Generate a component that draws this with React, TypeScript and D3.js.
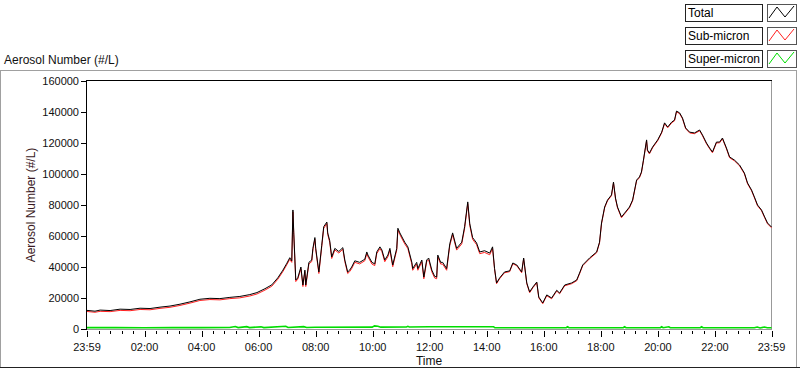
import React from "react";
import * as d3 from "d3";

// Time offsets in hours from the 23:59 start
const totalHours = [0,0.28,0.46,0.81,1.16,1.51,1.86,2.21,2.56,2.91,3.26,3.61,3.96,4.31,4.66,5.01,5.36,5.71,5.96,6.24,6.48,6.69,6.87,7.01,7.11,7.18,7.22,7.25,7.32,7.39,7.5,7.57,7.64,7.67,7.78,7.88,7.92,7.99,8.02,8.13,8.23,8.3,8.41,8.44,8.51,8.58,8.69,8.83,8.97,9.04,9.14,9.21,9.28,9.39,9.56,9.74,9.81,9.85,9.99,10.09,10.16,10.27,10.34,10.44,10.55,10.62,10.72,10.86,10.9,10.97,11.14,11.25,11.39,11.42,11.56,11.6,11.74,11.81,11.91,11.98,12.09,12.19,12.26,12.3,12.4,12.47,12.61,12.72,12.82,12.96,13.14,13.24,13.35,13.42,13.52,13.66,13.77,13.94,14.12,14.22,14.29,14.36,14.47,14.64,14.82,14.93,15.07,15.24,15.31,15.42,15.52,15.63,15.77,15.84,15.98,16.12,16.29,16.47,16.57,16.75,16.99,17.17,17.27,17.38,17.62,17.87,17.97,18.04,18.15,18.25,18.39,18.46,18.53,18.6,18.74,18.85,19.02,19.13,19.27,19.37,19.44,19.51,19.62,19.65,19.72,19.83,20.01,20.15,20.25,20.36,20.5,20.6,20.67,20.78,20.88,20.99,21.13,21.3,21.48,21.58,21.72,21.83,21.93,22.07,22.18,22.28,22.42,22.53,22.7,22.88,23.05,23.16,23.3,23.4,23.51,23.65,23.76,23.86,24];

const totalValues = [12000,11500,12200,11900,12800,12600,13400,13200,14100,14800,16000,17500,19200,19800,19600,20400,21000,22200,23500,26000,28500,33000,38000,42500,46000,44000,76800,62000,31600,33000,40000,28400,38000,28400,43000,44500,52000,59000,52000,36800,54000,66000,69000,62000,57000,46500,52000,50000,52500,44500,36800,38000,40000,44000,43000,45000,49700,47700,43000,42000,49700,53000,51000,44500,47700,52000,41300,52000,65000,62000,56000,53000,43000,39000,43000,39000,44500,33500,44500,45800,38000,34000,33500,47700,43000,43000,39000,55000,62000,52000,56000,66000,82000,68000,59000,55500,49700,50500,49000,53000,39000,29700,33000,36800,37500,42600,41300,36800,45800,29700,23900,27000,30300,20600,16800,22000,20000,25000,23200,28400,29700,31600,36100,41300,45800,49700,56000,68400,78700,83200,86500,94800,84500,78700,72300,74800,78700,83200,96100,98100,101300,109000,122000,115500,113500,117400,122000,127000,133000,130300,133500,134800,140600,139400,136100,129700,127000,126500,128400,125200,120000,116800,114200,120600,120600,123200,116800,111000,109000,105800,100600,94200,89700,85200,80000,76800,72300,68400,65800];

const subValues = [11300,10800,11400,11200,12000,11800,12600,12400,13300,14000,15200,16700,18400,19000,18800,19600,20100,21300,22600,25100,27600,32100,37100,41600,45000,43000,75600,60900,30600,32100,39000,27400,37000,27400,42000,43500,51000,58000,51000,35800,53000,65000,68000,61000,56000,45500,51000,49000,51500,43500,35800,37000,39000,43000,42000,44000,48600,46600,41900,40900,48600,51900,49900,43400,46600,50900,40200,50900,63900,60900,54900,51900,41900,37900,41900,37900,43400,32400,43400,44700,36900,32900,32400,46600,41900,41900,37900,53900,60900,50900,54900,64900,80900,66900,57900,54400,48600,49400,47900,51900,38500,29200,32500,36300,37000,42100,40800,36300,45300,29200,23400,26500,29800,20100,16300,21500,19500,24500,22700,27900,29200,31100,35600,40800,45300,49200,55500,67900,78200,82700,86000,94300,84000,78200,71800,74300,78200,82700,95600,97600,100800,108500,121500,115000,113000,116900,121500,126500,132500,129800,133000,134300,140100,138900,135600,129200,126500,126000,127900,124700,119500,116300,113700,120100,120100,122700,116300,110500,108500,105300,100100,93700,89200,84700,79500,76300,71800,67900,65300];

const superHours = [0,1,2,3,4,5,5.2,5.3,5.6,5.7,6.1,6.2,6.97,7.05,7.6,7.7,8,10,10.08,10.2,10.3,11.2,11.25,11.3,12,14.25,14.3,16.8,16.85,16.9,18.8,18.85,18.9,20.1,20.15,20.2,20.4,20.45,21.5,21.55,21.6,23.4,23.5,23.6,23.75,23.85,24];
const superValues = [900,900,850,900,900,950,1600,900,1500,900,1400,900,1800,1000,1500,1000,1100,1200,2000,1800,1200,1300,1700,1300,1500,1500,800,800,1400,800,800,1400,800,800,1400,800,1400,800,800,1400,800,800,1300,700,1300,800,800];

const yTicks = [0,20000,40000,60000,80000,100000,120000,140000,160000];
const xTickHours = [0,2.0167,4.0167,6.0167,8.0167,10.0167,12.0167,14.0167,16.0167,18.0167,20.0167,22.0167,24];
const xTickLabels = ["23:59","02:00","04:00","06:00","08:00","10:00","12:00","14:00","16:00","18:00","20:00","22:00","23:59"];

const legendNames = ["Total","Sub-micron","Super-micron"];
const legendColors = ["#000000","#ff2020","#00dd00"];

const FONT = "'Liberation Sans', Arial, sans-serif";

export default function App() {
  const x = d3.scaleLinear().domain([0, 24]).range([87, 771.5]);
  const y = d3.scaleLinear().domain([0, 160000]).range([329, 81]);

  const line = d3.line<[number, number]>().x(d => x(d[0])).y(d => y(d[1]));
  const totalPath = line(totalHours.map((h, i) => [h, totalValues[i]] as [number, number])) || "";
  const subPath = line(totalHours.map((h, i) => [h, subValues[i]] as [number, number])) || "";
  const superPath = line(superHours.map((h, i) => [h, superValues[i]] as [number, number])) || "";

  const minorTicks: number[] = [];
  for (let t = 1 / 60 - 0.4 * 5; t < 24; t += 0.4) {
    if (t <= 0.05 || t >= 23.95) continue;
    const isMajor = xTickHours.some(m => Math.abs(m - t) < 0.01);
    if (!isMajor) minorTicks.push(t);
  }

  const zig = (bx: number, by: number) =>
    `M${bx + 2},${by + 14} L${bx + 10},${by + 3} L${bx + 18},${by + 13} L${bx + 27},${by + 2}`;

  return (
    <svg width={800} height={369} style={{ position: "fixed", left: 0, top: 0, background: "#fff" }} fontFamily={FONT}>
      <rect x={0} y={0} width={800} height={369} fill="#fff" />
      {/* outer frame */}
      <line x1={0} x2={797} y1={70.5} y2={70.5} stroke="#a0a0a0" />
      <line x1={0.5} x2={0.5} y1={70} y2={367} stroke="#a0a0a0" />
      <line x1={796.5} x2={796.5} y1={70} y2={367} stroke="#a0a0a0" />
      <line x1={0} x2={800} y1={367.5} y2={367.5} stroke="#222" />

      {/* title */}
      <text x={4} y={63.5} fontSize={12} fill="#111">Aerosol Number (#/L)</text>

      {/* legend */}
      {legendNames.map((n, i) => {
        const by = 4 + i * 23;
        return (
          <g key={n}>
            <rect x={685.5} y={by + 0.5} width={77} height={17} fill="#fff" stroke="#222" />
            <text x={688} y={by + 13} fontSize={12} fill="#000">{n}</text>
            <rect x={767.5} y={by + 0.5} width={29} height={17} fill="#fff" stroke="#555" />
            <path d={zig(767, by)} fill="none" stroke={legendColors[i]} strokeWidth={1} />
          </g>
        );
      })}

      {/* plot area */}
      <rect x={87} y={80.5} width={684.5} height={249} fill="#fff" />
      <line x1={771.5} x2={771.5} y1={80} y2={330} stroke="#999" />
      <line x1={87} x2={772} y1={329.5} y2={329.5} stroke="#999" />
      <line x1={86.5} x2={772} y1={80.5} y2={80.5} stroke="#000" />
      <line x1={86.5} x2={86.5} y1={80} y2={330} stroke="#000" />

      {/* series */}
      <path d={superPath} fill="none" stroke="#00dd00" strokeWidth={1.6} />
      <path d={subPath} fill="none" stroke="#ff2020" strokeWidth={1} />
      <path d={totalPath} fill="none" stroke="#000" strokeWidth={1} />

      {/* y axis */}
      {yTicks.map(t => (
        <g key={t}>
          <line x1={81} x2={86} y1={Math.round(y(t)) + 0.5} y2={Math.round(y(t)) + 0.5} stroke="#000" />
          <text x={79} y={y(t)} dy="0.36em" textAnchor="end" fontSize={11} fill="#111">{t}</text>
        </g>
      ))}
      <text transform={`translate(35,205) rotate(-90)`} textAnchor="middle" fontSize={12} fill="#3a1a24">Aerosol Number (#/L)</text>

      {/* x axis */}
      {xTickHours.map((h, i) => (
        <g key={i}>
          <line x1={Math.round(x(h)) + 0.5} x2={Math.round(x(h)) + 0.5} y1={331} y2={337} stroke="#000" />
          <text x={x(h)} y={351} textAnchor="middle" fontSize={11} fill="#111">{xTickLabels[i]}</text>
        </g>
      ))}
      {minorTicks.map((h, i) => (
        <line key={"m" + i} x1={Math.round(x(h)) + 0.5} x2={Math.round(x(h)) + 0.5} y1={331} y2={334} stroke="#000" />
      ))}
      <text x={429} y={365} textAnchor="middle" fontSize={12} fill="#111">Time</text>
    </svg>
  );
}
